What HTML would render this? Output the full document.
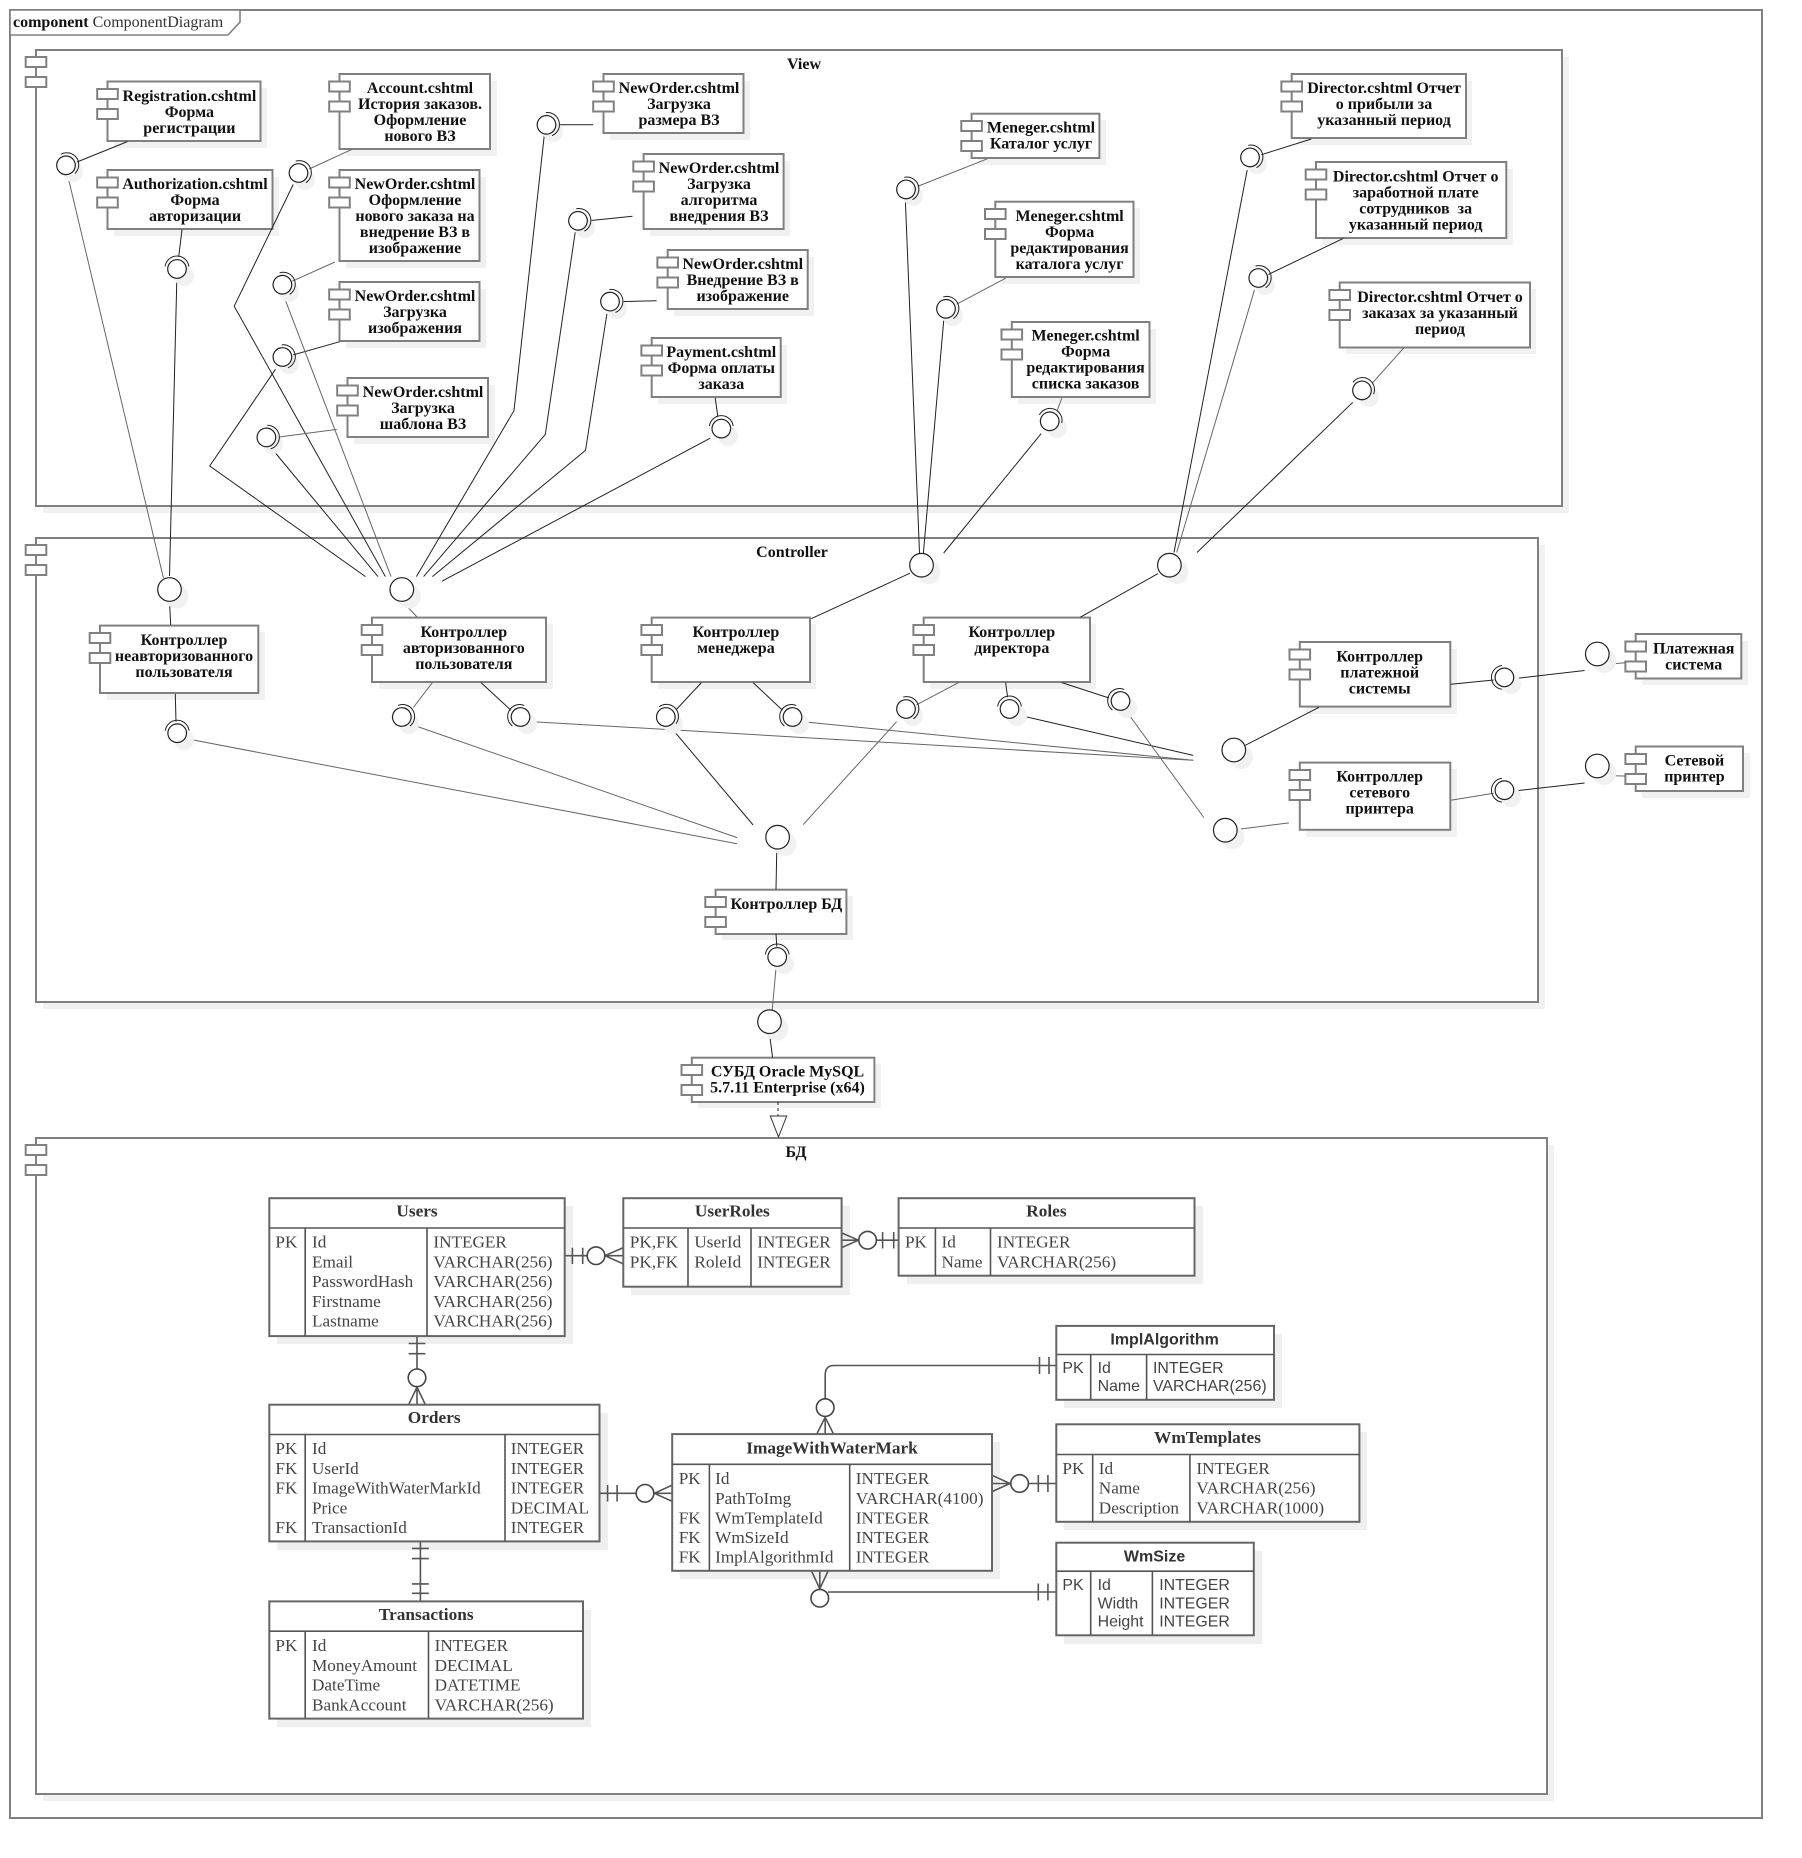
<!DOCTYPE html>
<html lang="ru"><head><meta charset="utf-8"><title>ComponentDiagram</title>
<style>
html,body{margin:0;padding:0;background:#fff}
svg{display:block}
text{font-family:"Liberation Serif","Noto Serif CJK SC",serif}
.b{font-weight:bold;font-size:16px;fill:#111;text-anchor:middle}
.p{fill:#fff;stroke:#808080;stroke-width:2}
.sh{fill:#f1f1f1;stroke:none}
.l{stroke:#222;stroke-width:1;fill:none}
.g{stroke:#666;stroke-width:1;fill:none}
.c{fill:#fff;stroke:#222;stroke-width:1.2}
.t{fill:#fff;stroke:#666;stroke-width:2}
.tl{stroke:#555;stroke-width:1.6;fill:none}
.cr{stroke:#555;stroke-width:1.6;fill:none}
.cc{fill:#fff;stroke:#444;stroke-width:1.6}
.h{font-weight:bold;font-size:17.3px;fill:#333;text-anchor:middle}
.r{font-size:17.2px;fill:#444}
text.hs{font-family:"Liberation Sans",sans-serif;font-weight:bold;font-size:16px;fill:#333;text-anchor:middle}
.rs text{font-family:"Liberation Sans",sans-serif;font-size:15.9px;fill:#444}
</style></head><body>
<svg xmlns="http://www.w3.org/2000/svg" width="1802" height="1858" viewBox="0 0 1802 1858">
<defs>
<g id="s"><path d="M2.5,-11.9A12,12 0 0 1 2.5,11.9" fill="none" stroke="#222" stroke-width="1"/><circle r="9.3" class="c"/></g>
<g id="ic"><rect x="-10.3" y="0" width="20.6" height="10" class="p"/><rect x="-10.3" y="20" width="20.6" height="10" class="p"/></g>
</defs>
<rect width="1802" height="1858" fill="#fff"/>
<!-- frame -->
<rect x="10" y="10" width="1752" height="1808" fill="none" stroke="#808080" stroke-width="2"/>
<path d="M10,10H240V22L228,35H10Z" fill="#fff" stroke="#808080" stroke-width="1.6"/>
<text x="13" y="27" font-size="16" fill="#111"><tspan font-weight="bold">component</tspan> <tspan fill="#333">ComponentDiagram</tspan></text>

<!-- packages -->
<rect x="43" y="57" width="1526" height="456" class="sh"/>
<rect x="36" y="50" width="1526" height="456" class="p"/>
<use href="#ic" x="36" y="57"/>
<text x="804" y="69" class="b">View</text>
<rect x="43" y="545" width="1502" height="464" class="sh"/>
<rect x="36" y="538" width="1502" height="464" class="p"/>
<use href="#ic" x="36" y="545"/>
<text x="792" y="557" class="b">Controller</text>
<rect x="43" y="1145" width="1511" height="656" class="sh"/>
<rect x="36" y="1138" width="1511" height="656" class="p"/>
<use href="#ic" x="36" y="1145"/>
<text x="796" y="1157" class="b">БД</text>

<!-- component shadows -->
<g class="sh">
<rect x="114" y="88" width="153" height="60"/><rect x="114" y="177" width="165" height="59"/>
<rect x="346" y="81" width="151" height="75"/><rect x="346" y="177" width="140" height="91"/>
<rect x="346" y="289" width="140" height="59"/><rect x="354" y="385" width="141" height="59"/>
<rect x="610" y="81" width="140" height="59"/><rect x="650" y="161" width="140" height="75"/>
<rect x="674" y="257" width="140" height="59"/><rect x="658" y="345" width="129" height="59"/>
<rect x="978" y="120" width="128" height="45"/><rect x="1002" y="208" width="138" height="76"/>
<rect x="1018" y="329" width="138" height="75"/><rect x="1298" y="81" width="174" height="64"/>
<rect x="1322" y="169" width="191" height="76"/><rect x="1346" y="289" width="190" height="65"/>
<rect x="107" y="632" width="158" height="68"/><rect x="379" y="624" width="174" height="65"/>
<rect x="658" y="624" width="158" height="65"/><rect x="930" y="624" width="166" height="65"/>
<rect x="1306" y="649" width="151" height="65"/><rect x="1306" y="769" width="151" height="68"/>
<rect x="722" y="896" width="131" height="44"/><rect x="698" y="1064" width="183" height="44"/>
<rect x="1642" y="641" width="106" height="44"/><rect x="1642" y="753" width="108" height="45"/>
</g>

<!-- components -->
<g class="p">
<rect x="107.5" y="81.5" width="153" height="59.5"/><rect x="107.5" y="170" width="165" height="59"/>
<rect x="339.5" y="74" width="150.5" height="75"/><rect x="339.5" y="170" width="140" height="91"/>
<rect x="339.5" y="282" width="140" height="59"/><rect x="347.5" y="378" width="140.5" height="59"/>
<rect x="603.5" y="74" width="140" height="59"/><rect x="643.6" y="154" width="140" height="75"/>
<rect x="667.7" y="250" width="140" height="59"/><rect x="651.7" y="338" width="129" height="59"/>
<rect x="971.6" y="113.7" width="127.8" height="44.3"/><rect x="995.3" y="201.7" width="138.2" height="75.3"/>
<rect x="1011.8" y="322" width="137.7" height="75"/><rect x="1291.7" y="74" width="174.3" height="64"/>
<rect x="1316" y="162" width="190.3" height="76"/><rect x="1339.7" y="282.5" width="190.3" height="65"/>
<rect x="100" y="625.6" width="158.3" height="67.4"/><rect x="372" y="617.6" width="174" height="64.4"/>
<rect x="651.7" y="617.6" width="158.3" height="64.4"/><rect x="923.7" y="617.6" width="166.3" height="64.4"/>
<rect x="1299.8" y="642" width="150.5" height="64.6"/><rect x="1299.8" y="762.6" width="150.5" height="67.2"/>
<rect x="715.6" y="889.7" width="130.8" height="44.3"/><rect x="691.8" y="1057.7" width="182.6" height="44.3"/>
<rect x="1635.7" y="634" width="105.6" height="44.5"/><rect x="1635.7" y="746.5" width="107.3" height="44.5"/>
</g>
<use href="#ic" x="107.5" y="89"/><use href="#ic" x="107.5" y="177.5"/><use href="#ic" x="339.5" y="81.5"/>
<use href="#ic" x="339.5" y="177.5"/><use href="#ic" x="339.5" y="289.5"/><use href="#ic" x="347.5" y="385.5"/>
<use href="#ic" x="603.5" y="81.5"/><use href="#ic" x="643.6" y="161.5"/><use href="#ic" x="667.7" y="257.5"/>
<use href="#ic" x="651.7" y="345.5"/><use href="#ic" x="971.6" y="121"/><use href="#ic" x="995.3" y="209"/>
<use href="#ic" x="1011.8" y="329.5"/><use href="#ic" x="1291.7" y="81.5"/><use href="#ic" x="1316" y="169.5"/>
<use href="#ic" x="1339.7" y="290"/><use href="#ic" x="100" y="633"/><use href="#ic" x="372" y="625"/>
<use href="#ic" x="651.7" y="625"/><use href="#ic" x="923.7" y="625"/><use href="#ic" x="1299.8" y="649.5"/>
<use href="#ic" x="1299.8" y="770"/><use href="#ic" x="715.6" y="897"/><use href="#ic" x="691.8" y="1065"/>
<use href="#ic" x="1635.7" y="641.5"/><use href="#ic" x="1635.7" y="754"/>

<!-- component labels -->
<g class="b" transform="translate(0,-0.7)">
<text y="101.5"><tspan x="189.4">Registration.cshtml</tspan><tspan x="189.4" dy="16">Форма</tspan><tspan x="189.4" dy="16">регистрации</tspan></text>
<text y="189.5"><tspan x="195">Authorization.cshtml</tspan><tspan x="195" dy="16">Форма</tspan><tspan x="195" dy="16">авторизации</tspan></text>
<text y="93.5"><tspan x="420">Account.cshtml</tspan><tspan x="420" dy="16">История заказов.</tspan><tspan x="420" dy="16">Оформление</tspan><tspan x="420" dy="16">нового ВЗ</tspan></text>
<text y="189.5"><tspan x="415">NewOrder.cshtml</tspan><tspan x="415" dy="16">Оформление</tspan><tspan x="415" dy="16">нового заказа на</tspan><tspan x="415" dy="16">внедрение ВЗ в</tspan><tspan x="415" dy="16">изображение</tspan></text>
<text y="301.5"><tspan x="415">NewOrder.cshtml</tspan><tspan x="415" dy="16">Загрузка</tspan><tspan x="415" dy="16">изображения</tspan></text>
<text y="397.5"><tspan x="423">NewOrder.cshtml</tspan><tspan x="423" dy="16">Загрузка</tspan><tspan x="423" dy="16">шаблона ВЗ</tspan></text>
<text y="93.5"><tspan x="679">NewOrder.cshtml</tspan><tspan x="679" dy="16">Загрузка</tspan><tspan x="679" dy="16">размера ВЗ</tspan></text>
<text y="173.5"><tspan x="719">NewOrder.cshtml</tspan><tspan x="719" dy="16">Загрузка</tspan><tspan x="719" dy="16">алгоритма</tspan><tspan x="719" dy="16">внедрения ВЗ</tspan></text>
<text y="269.5"><tspan x="742.7">NewOrder.cshtml</tspan><tspan x="742.7" dy="16">Внедрение ВЗ в</tspan><tspan x="742.7" dy="16">изображение</tspan></text>
<text y="357.5"><tspan x="721.3">Payment.cshtml</tspan><tspan x="721.3" dy="16">Форма оплаты</tspan><tspan x="721.3" dy="16">заказа</tspan></text>
<text y="133"><tspan x="1041">Meneger.cshtml</tspan><tspan x="1041" dy="16">Каталог услуг</tspan></text>
<text y="221.5"><tspan x="1069.6">Meneger.cshtml</tspan><tspan x="1069.6" dy="16">Форма</tspan><tspan x="1069.6" dy="16">редактирования</tspan><tspan x="1069.6" dy="16">каталога услуг</tspan></text>
<text y="341.4"><tspan x="1085.6">Meneger.cshtml</tspan><tspan x="1085.6" dy="16">Форма</tspan><tspan x="1085.6" dy="16">редактирования</tspan><tspan x="1085.6" dy="16">списка заказов</tspan></text>
<text y="93.7"><tspan x="1384">Director.cshtml Отчет</tspan><tspan x="1384" dy="16">о прибыли за</tspan><tspan x="1384" dy="16">указанный период</tspan></text>
<text y="182"><tspan x="1415.7">Director.cshtml Отчет о</tspan><tspan x="1415.7" dy="16">заработной плате</tspan><tspan x="1415.7" dy="16">сотрудников&#160; за</tspan><tspan x="1415.7" dy="16">указанный период</tspan></text>
<text y="302.5"><tspan x="1440">Director.cshtml Отчет о</tspan><tspan x="1440" dy="16">заказах за указанный</tspan><tspan x="1440" dy="16">период</tspan></text>
<text y="645.5"><tspan x="184">Контроллер</tspan><tspan x="184" dy="16">неавторизованного</tspan><tspan x="184" dy="16">пользователя</tspan></text>
<text y="637.5"><tspan x="463.8">Контроллер</tspan><tspan x="463.8" dy="16">авторизованного</tspan><tspan x="463.8" dy="16">пользователя</tspan></text>
<text y="637.5"><tspan x="735.9">Контроллер</tspan><tspan x="735.9" dy="16">менеджера</tspan></text>
<text y="637.5"><tspan x="1011.8">Контроллер</tspan><tspan x="1011.8" dy="16">директора</tspan></text>
<text y="662"><tspan x="1379.7">Контроллер</tspan><tspan x="1379.7" dy="16">платежной</tspan><tspan x="1379.7" dy="16">системы</tspan></text>
<text y="782.2"><tspan x="1379.7">Контроллер</tspan><tspan x="1379.7" dy="16">сетевого</tspan><tspan x="1379.7" dy="16">принтера</tspan></text>
<text y="909.6" x="786.4">Контроллер БД</text>
<text y="1077"><tspan x="787.5">СУБД Oracle MySQL</tspan><tspan x="787.5" dy="16">5.7.11 Enterprise (x64)</tspan></text>
<text y="654"><tspan x="1693.7">Платежная</tspan><tspan x="1693.7" dy="16">система</tspan></text>
<text y="766"><tspan x="1694.4">Сетевой</tspan><tspan x="1694.4" dy="16">принтер</tspan></text>
</g>

<!-- connector lines -->
<g class="l">
<path d="M77,162L127.4,141.6"/>
<path d="M182,229.6L178.7,257"/>
<path d="M176.8,280.5L169.5,576"/>
<path d="M293.2,184.5L234.2,306.2L385.4,576.6"/>
<path d="M275.5,369.3L209.7,466L365.5,576.6"/>
<path d="M292.8,355L339.8,341.7"/>
<path d="M271.7,448.5L378,576.6"/>
<path d="M556.8,124.8L593.2,124.8"/>
<path d="M544.2,135.9L514,410.6L416.4,576.6"/>
<path d="M588.6,220.8L632.5,216.2"/>
<path d="M575.2,232.3L545.3,434.4L423.6,576.6"/>
<path d="M621,301.6L656.6,300.8"/>
<path d="M606.9,313.8L585.5,450.4L432.4,576.6"/>
<path d="M710.2,438.2L442,581.2"/>
<path d="M715.2,398L717.9,417"/>
<path d="M905.4,200.9L919.5,553"/>
<path d="M943.7,320.7L923.4,553"/>
<path d="M1041.2,433.6L943.7,553"/>
<path d="M1261.4,154.7L1311.3,139"/>
<path d="M1247.2,170L1174,552.5"/>
<path d="M1268.3,274.5L1343.2,238.4"/>
<path d="M1352.8,402.3L1197,552.5"/>
<path d="M169.5,601L170.7,625"/>
<path d="M910,573.2L811.2,618.7"/>
<path d="M1158,573.6L1080.3,617.2"/>
<path d="M175.3,694L176,721.7"/>
<path d="M481,682.6L510.9,710.2"/>
<path d="M701.4,682.6L676.5,709.4"/>
<path d="M671.9,728.6L753.1,825"/>
<path d="M753.1,682.6L782.5,710.2"/>
<path d="M1005.6,682.6L1007.6,697.2"/>
<path d="M1021,715.6L1193.2,755.4"/>
<path d="M1061.9,682.6L1109,698"/>
<path d="M776.8,849L776,889.3"/>
<path d="M776,934L776.8,946.7"/>
<path d="M769.5,1033.6L772.6,1057.7"/>
<path d="M1245.3,745.3L1319,707.3"/>
<path d="M1450.7,684.3L1493.7,680"/>
<path d="M1517.5,678.2L1584.6,670.5"/>
<path d="M1517.5,790.6L1584.6,783"/>
</g>
<g class="g">
<path d="M68,176.8L163.4,578"/>
<path d="M309.2,169L352,149.3"/>
<path d="M276.3,437.4L336.8,429.4"/>
<path d="M292,281.3L334.9,262"/>
<path d="M284,296.6L391,576.6"/>
<path d="M917.6,186.4L987.3,158.8"/>
<path d="M956.7,304.2L1005.7,278.2"/>
<path d="M1061.9,398L1057.3,410.2"/>
<path d="M1254.5,289.8L1176.7,552.5"/>
<path d="M1372.7,382.7L1404.2,347.4"/>
<path d="M401.8,601L417.1,617"/>
<path d="M189.4,739.3L737,843.7"/>
<path d="M432.4,682.6L413.3,707.5"/>
<path d="M413.3,725.1L737,837.6"/>
<path d="M533.1,721.7L1193.2,760.3"/>
<path d="M805.5,722L1193.2,760.3"/>
<path d="M958.6,682.6L916.5,704.8"/>
<path d="M896.6,721.7L803.2,824.6"/>
<path d="M1127.3,712.5L1203.8,817.5"/>
<path d="M776,968.5L772.2,1010"/>
<path d="M1237.6,829.4L1289,822.9"/>
<path d="M1609.2,664L1625.3,662.8"/>
<path d="M1450.7,800.2L1493.7,793.3"/>
<path d="M1609.2,775.7L1625.3,776"/>
</g>
<path d="M778,1102V1116" stroke="#222" stroke-width="1" stroke-dasharray="3 3" fill="none"/>
<path d="M770.3,1116H786.7L778.5,1137Z" fill="#fff" stroke="#333" stroke-width="1"/>

<!-- interface shadows -->
<g class="sh">
<circle cx="73" cy="172" r="10"/><circle cx="184" cy="276" r="10"/><circle cx="305" cy="180" r="10"/>
<circle cx="289" cy="292" r="10"/><circle cx="289" cy="364" r="10"/><circle cx="273" cy="444" r="10"/>
<circle cx="553" cy="132" r="10"/><circle cx="585" cy="228" r="10"/><circle cx="617" cy="309" r="10"/>
<circle cx="728" cy="436" r="10"/><circle cx="913" cy="196" r="10"/><circle cx="953" cy="316" r="10"/>
<circle cx="1057" cy="428" r="10"/><circle cx="1257" cy="164" r="10"/><circle cx="1265" cy="285" r="10"/>
<circle cx="1369" cy="397" r="10"/><circle cx="184" cy="740" r="10"/><circle cx="409" cy="724" r="10"/>
<circle cx="527" cy="724" r="10"/><circle cx="673" cy="724" r="10"/><circle cx="799" cy="724" r="10"/>
<circle cx="913" cy="716" r="10"/><circle cx="1017" cy="716" r="10"/><circle cx="1127" cy="708" r="10"/>
<circle cx="784" cy="964" r="10"/><circle cx="1511" cy="684" r="10"/><circle cx="1511" cy="797" r="10"/>
<circle cx="176.5" cy="596.5" r="12"/><circle cx="408.8" cy="596.5" r="12"/><circle cx="928.5" cy="572" r="12"/>
<circle cx="1176.4" cy="572" r="12"/><circle cx="784.6" cy="844" r="12"/><circle cx="776.5" cy="1028.7" r="12"/>
<circle cx="1240.8" cy="757" r="12"/><circle cx="1232.3" cy="837" r="12"/><circle cx="1604.3" cy="661" r="12"/>
<circle cx="1604.3" cy="773" r="12"/>
</g>

<!-- sockets -->
<use href="#s" transform="translate(66,165.3) rotate(-36)"/>
<use href="#s" transform="translate(177,269) rotate(-90)"/>
<use href="#s" transform="translate(298.5,173) rotate(-25)"/>
<use href="#s" transform="translate(282.4,284.7) rotate(-25)"/>
<use href="#s" transform="translate(282.4,357) rotate(-15)"/>
<use href="#s" transform="translate(266.4,437.4) rotate(-8)"/>
<use href="#s" transform="translate(546.5,124.8) rotate(-15)"/>
<use href="#s" transform="translate(578,220.8) rotate(-20)"/>
<use href="#s" transform="translate(610,301.6) rotate(-15)"/>
<use href="#s" transform="translate(721.3,428.6) rotate(-90)"/>
<use href="#s" transform="translate(906,189.4) rotate(-20)"/>
<use href="#s" transform="translate(946,308.8) rotate(-25)"/>
<use href="#s" transform="translate(1049.7,421.3) rotate(-70)"/>
<use href="#s" transform="translate(1250,157.4) rotate(-20)"/>
<use href="#s" transform="translate(1258.3,278) rotate(-25)"/>
<use href="#s" transform="translate(1362,390.4) rotate(-60)"/>
<use href="#s" transform="translate(177.2,733.2) rotate(-90)"/>
<use href="#s" transform="translate(401.8,717) rotate(-30)"/>
<use href="#s" transform="translate(520.5,717) rotate(-150)"/>
<use href="#s" transform="translate(665.8,717) rotate(-45)"/>
<use href="#s" transform="translate(792.5,717) rotate(-150)"/>
<use href="#s" transform="translate(906,709) rotate(-25)"/>
<use href="#s" transform="translate(1009.5,709) rotate(-90)"/>
<use href="#s" transform="translate(1120.5,701) rotate(-150)"/>
<use href="#s" transform="translate(777.2,957) rotate(-90)"/>
<use href="#s" transform="translate(1504.4,677.4) rotate(180)"/>
<use href="#s" transform="translate(1504.4,790.2) rotate(180)"/>

<!-- plain interfaces -->
<g class="c">
<circle cx="169.5" cy="589.5" r="11.8"/><circle cx="401.8" cy="589.5" r="11.8"/><circle cx="921.5" cy="565.2" r="11.8"/>
<circle cx="1169.4" cy="565.2" r="11.8"/><circle cx="777.6" cy="837.2" r="11.8"/><circle cx="769.5" cy="1021.7" r="11.8"/>
<circle cx="1233.8" cy="750" r="11.8"/><circle cx="1225.3" cy="830.2" r="11.8"/><circle cx="1597.3" cy="654" r="11.8"/>
<circle cx="1597.3" cy="766" r="11.8"/>
</g>

<!-- table shadows -->
<g fill="#efefef">
<rect x="277" y="1206" width="296" height="138"/><rect x="631" y="1206" width="219" height="89"/>
<rect x="907" y="1206" width="296" height="78"/><rect x="277" y="1413" width="331" height="137"/>
<rect x="277" y="1610" width="314" height="117"/><rect x="680" y="1442" width="320" height="137"/>
<rect x="1064" y="1334" width="218" height="74"/><rect x="1064" y="1432" width="303" height="98"/>
<rect x="1064" y="1551" width="198" height="93"/>
</g>

<!-- crow's foot connectors -->
<g class="cr">
<path d="M564.7,1255.7H588M572.4,1247.7V1264M582.7,1247.7V1264M604.9,1255.7L623.3,1247.6M604.9,1255.7H623.3M604.9,1255.7L623.3,1263.9"/>
<path d="M898.6,1240.2H876M882.6,1232V1248.5M893.7,1232V1248.5M858.5,1240.2L841.6,1232.9M858.5,1240.2H841.6M858.5,1240.2L841.6,1247.6"/>
<path d="M417,1336.1V1370M408.6,1343.5H425.4M408.6,1353.7H425.4M417,1387.1L408.6,1404.7M417,1387.1V1404.7M417,1387.1L425.4,1404.7"/>
<path d="M599.5,1493.3H637M607.6,1485V1501.5M617.1,1485V1501.5M654.3,1493.3L672.2,1485.1M654.3,1493.3H672.2M654.3,1493.3L672.2,1501.4"/>
<path d="M420.4,1541.4V1601.4M412,1548.4H428.8M412,1558.6H428.8M412,1583.9H428.8M412,1593.3H428.8"/>
<path d="M825.2,1399V1375Q825.2,1365.5 834,1365.5H1056.3M1039.5,1357V1374M1049,1357V1374M825.2,1417.3L816.7,1434.1M825.2,1417.3V1434.1M825.2,1417.3L833.6,1434.1"/>
<path d="M1028,1483.5H1056.3M1038.3,1475V1492M1047.9,1475V1492M1010,1483.5L992,1475.3M1010,1483.5H992M1010,1483.5L992,1491.6"/>
<path d="M827.8,1592H1056.3M1038.3,1583.5V1600.5M1047.9,1583.5V1600.5M819.8,1588.8L811.4,1570.8M819.8,1588.8V1570.8M819.8,1588.8L828.2,1570.8"/>
</g>
<g class="cc">
<circle cx="596" cy="1255.7" r="8.8"/><circle cx="867.6" cy="1240.2" r="8.8"/><circle cx="417" cy="1377.8" r="8.8"/>
<circle cx="645" cy="1493.3" r="8.8"/><circle cx="825.2" cy="1407.6" r="8.8"/><circle cx="1019.6" cy="1483.5" r="8.8"/>
<circle cx="819.8" cy="1598.2" r="8.8"/>
</g>

<!-- tables -->
<g class="t">
<rect x="269.3" y="1198.2" width="295.4" height="137.9"/><rect x="623.3" y="1198.2" width="218.3" height="88.5"/>
<rect x="898.6" y="1198.2" width="295.9" height="77.5"/><rect x="269.3" y="1404.7" width="330.2" height="136.7"/>
<rect x="269.3" y="1601.4" width="313.7" height="117.2"/><rect x="672.2" y="1434.1" width="319.8" height="136.7"/>
<rect x="1056.3" y="1325.9" width="217.7" height="73.9"/><rect x="1056.3" y="1424.3" width="303.1" height="97.5"/>
<rect x="1056.3" y="1542.7" width="197.5" height="92.6"/>
</g>
<g class="tl">
<path d="M269.3,1228H564.7M305.2,1228V1336.1M427,1228V1336.1"/>
<path d="M623.3,1228H841.6M688,1228V1286.7M751,1228V1286.7"/>
<path d="M898.6,1228H1194.5M935.4,1228V1275.7M990.5,1228V1275.7"/>
<path d="M269.3,1434.5H599.5M305.2,1434.5V1541.4M505,1434.5V1541.4"/>
<path d="M269.3,1631.2H583M305.2,1631.2V1718.6M428.5,1631.2V1718.6"/>
<path d="M672.2,1464.3H992M709.4,1464.3V1570.8M849.7,1464.3V1570.8"/>
<path d="M1056.3,1354.5H1274M1090.7,1354.5V1399.8M1146.6,1354.5V1399.8"/>
<path d="M1056.3,1454.5H1359.4M1092.7,1454.5V1521.8M1189.9,1454.5V1521.8"/>
<path d="M1056.3,1571.2H1253.8M1090.7,1571.2V1635.3M1152.4,1571.2V1635.3"/>
</g>

<text class="h" x="417" y="1216.5">Users</text>
<g class="r">
<text x="275.4" y="1247.6">PK</text>
<text x="312" y="1247.6">Id</text><text x="312" y="1267.6">Email</text><text x="312" y="1287.1">PasswordHash</text><text x="312" y="1307.1">Firstname</text><text x="312" y="1326.7">Lastname</text>
<text x="433.4" y="1247.6">INTEGER</text><text x="433.4" y="1267.6">VARCHAR(256)</text><text x="433.4" y="1287.1">VARCHAR(256)</text><text x="433.4" y="1307.1">VARCHAR(256)</text><text x="433.4" y="1326.7">VARCHAR(256)</text>
</g>
<text class="h" x="732.3" y="1216.5">UserRoles</text>
<g class="r">
<text x="629.8" y="1247.6">PK,FK</text><text x="629.8" y="1267.6">PK,FK</text>
<text x="694.4" y="1247.6">UserId</text><text x="694.4" y="1267.6">RoleId</text>
<text x="757.2" y="1247.6">INTEGER</text><text x="757.2" y="1267.6">INTEGER</text>
</g>
<text class="h" x="1046.4" y="1216.5">Roles</text>
<g class="r">
<text x="905" y="1247.6">PK</text>
<text x="941.5" y="1247.6">Id</text><text x="941.5" y="1267.6">Name</text>
<text x="997" y="1247.6">INTEGER</text><text x="997" y="1267.6">VARCHAR(256)</text>
</g>
<text class="h" x="434.2" y="1423">Orders</text>
<g class="r">
<text x="275.4" y="1454.1">PK</text><text x="275.4" y="1474.1">FK</text><text x="275.4" y="1493.7">FK</text><text x="275.4" y="1532.9">FK</text>
<text x="312" y="1454.1">Id</text><text x="312" y="1474.1">UserId</text><text x="312" y="1493.7">ImageWithWaterMarkId</text><text x="312" y="1513.3">Price</text><text x="312" y="1532.9">TransactionId</text>
<text x="510.7" y="1454.1">INTEGER</text><text x="510.7" y="1474.1">INTEGER</text><text x="510.7" y="1493.7">INTEGER</text><text x="510.7" y="1513.3">DECIMAL</text><text x="510.7" y="1532.9">INTEGER</text>
</g>
<text class="h" x="426.2" y="1619.8">Transactions</text>
<g class="r">
<text x="275.4" y="1651.2">PK</text>
<text x="312" y="1651.2">Id</text><text x="312" y="1670.8">MoneyAmount</text><text x="312" y="1690.4">DateTime</text><text x="312" y="1710.4">BankAccount</text>
<text x="434.6" y="1651.2">INTEGER</text><text x="434.6" y="1670.8">DECIMAL</text><text x="434.6" y="1690.4">DATETIME</text><text x="434.6" y="1710.4">VARCHAR(256)</text>
</g>
<text class="h" x="832" y="1453.3">ImageWithWaterMark</text>
<g class="r">
<text x="678.7" y="1483.9">PK</text><text x="678.7" y="1523.5">FK</text><text x="678.7" y="1543.1">FK</text><text x="678.7" y="1562.7">FK</text>
<text x="715.1" y="1483.9">Id</text><text x="715.1" y="1503.9">PathToImg</text><text x="715.1" y="1523.5">WmTemplateId</text><text x="715.1" y="1543.1">WmSizeId</text><text x="715.1" y="1562.7">ImplAlgorithmId</text>
<text x="855.8" y="1483.9">INTEGER</text><text x="855.8" y="1503.9">VARCHAR(4100)</text><text x="855.8" y="1523.5">INTEGER</text><text x="855.8" y="1543.1">INTEGER</text><text x="855.8" y="1562.7">INTEGER</text>
</g>
<text class="hs" x="1164.6" y="1344.7">ImplAlgorithm</text>
<g class="rs">
<text x="1062.4" y="1372.9">PK</text>
<text x="1097.6" y="1372.9">Id</text><text x="1097.6" y="1391.2">Name</text>
<text x="1153" y="1372.9">INTEGER</text><text x="1153" y="1391.2">VARCHAR(256)</text>
</g>
<text class="h" x="1207.5" y="1443">WmTemplates</text>
<g class="r">
<text x="1062.4" y="1474.1">PK</text>
<text x="1098.8" y="1474.1">Id</text><text x="1098.8" y="1493.7">Name</text><text x="1098.8" y="1513.7">Description</text>
<text x="1196.4" y="1474.1">INTEGER</text><text x="1196.4" y="1493.7">VARCHAR(256)</text><text x="1196.4" y="1513.7">VARCHAR(1000)</text>
</g>
<text class="hs" x="1154.6" y="1561.4">WmSize</text>
<g class="rs">
<text x="1062.4" y="1590">PK</text>
<text x="1097.6" y="1590">Id</text><text x="1097.6" y="1608.4">Width</text><text x="1097.6" y="1626.7">Height</text>
<text x="1159.2" y="1590">INTEGER</text><text x="1159.2" y="1608.4">INTEGER</text><text x="1159.2" y="1626.7">INTEGER</text>
</g>
</svg>
</body></html>
